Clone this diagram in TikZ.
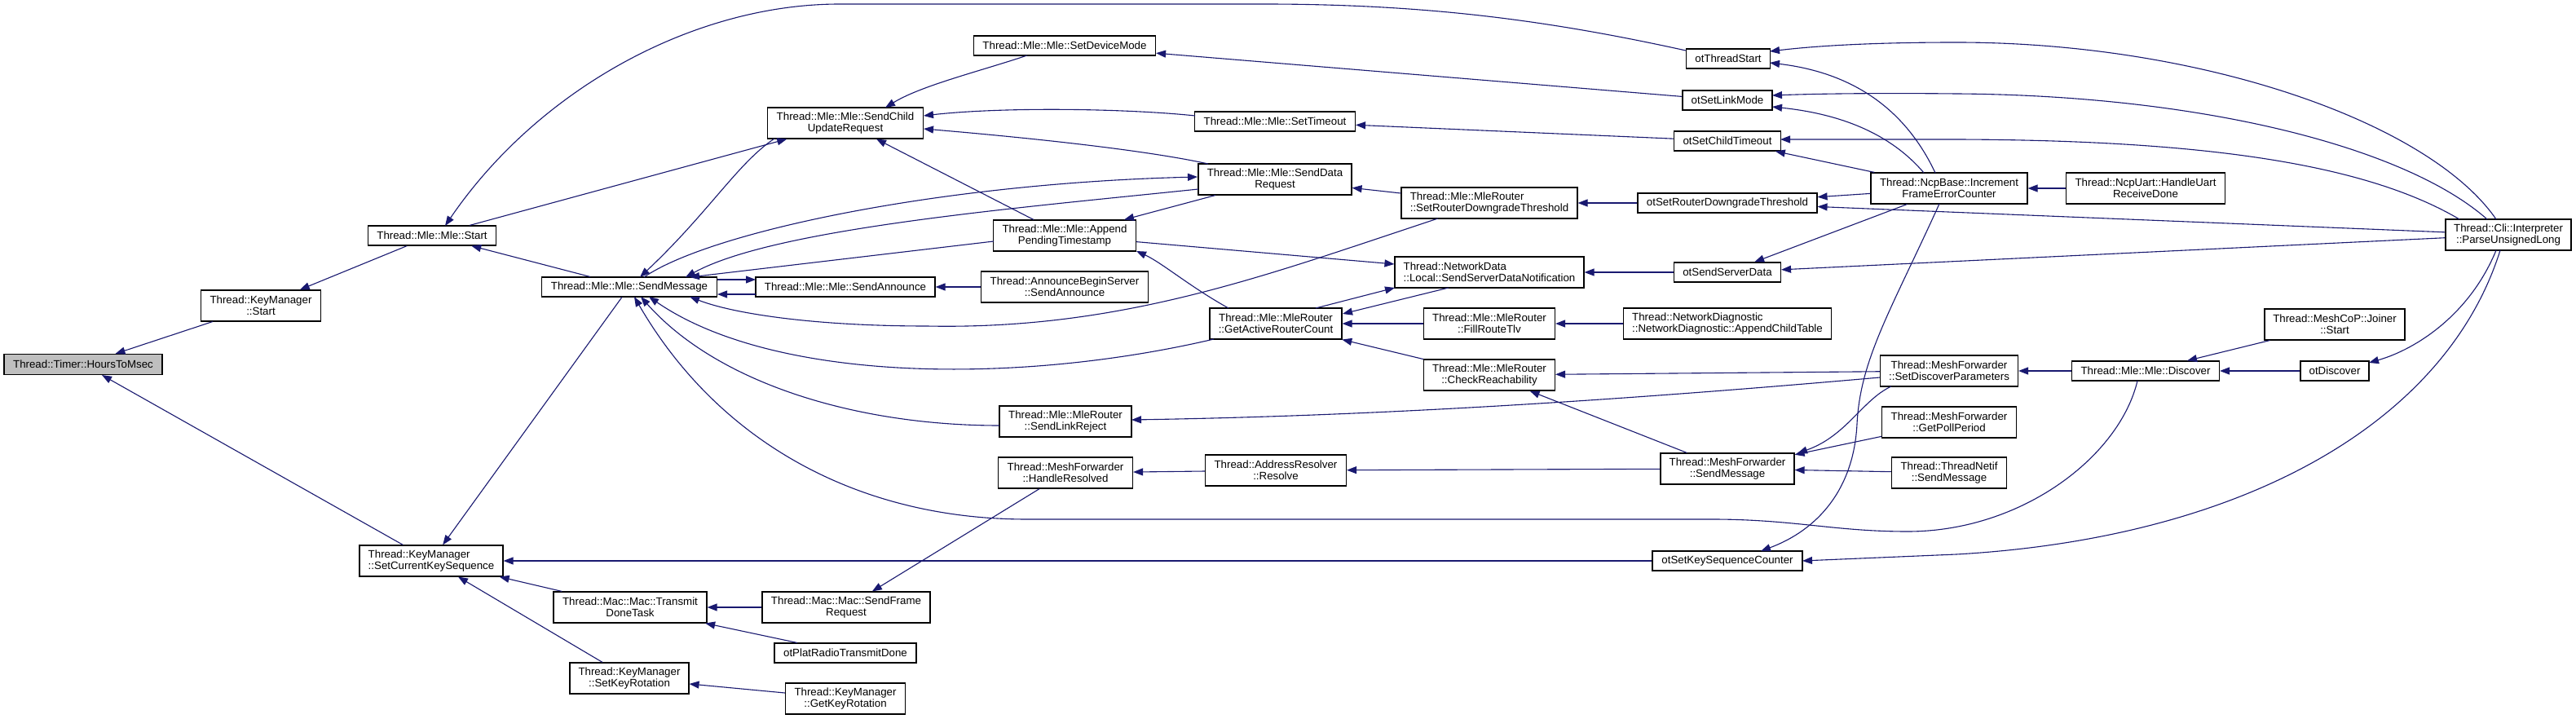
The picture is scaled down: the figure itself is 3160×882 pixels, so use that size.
\documentclass[tikz,border=0pt]{standalone}
\usepackage{fontspec}
\setmainfont{Liberation Sans}
\usetikzlibrary{arrows.meta}
\definecolor{edgecol}{RGB}{25,25,112}
\tikzset{
  box/.style={draw=black, line width=1.1pt, inner sep=0pt, fill=white,
    font=\fontsize{13.3}{14}\selectfont, align=center},
  hone/.style={minimum height=24pt},
  htwo/.style={minimum height=38pt},
  e/.style={draw=edgecol, line width=1.1pt, -{Triangle[length=12pt,width=9pt]}},
}
\begin{document}
\begin{tikzpicture}[x=1pt,y=-1pt]
\fill[white] (0,0) rectangle (3160,882);
\useasboundingbox (0,0) rectangle (3160,882);

% nodes
\node[box,fill=gray!50,minimum width=194pt,minimum height=25pt] (hours) at (102,447) {Thread::Timer::HoursToMsec};
\node[box,hone,minimum width=157pt] (mlestart) at (530,289) {Thread::Mle::Mle::Start};
\node[box,htwo,minimum width=147pt] (kmstart) at (320,375) {Thread::KeyManager\\::Start};
\node[box,hone,minimum width=215pt] (sendmsg) at (772,352) {Thread::Mle::Mle::SendMessage};
\node[box,htwo,minimum width=176pt,align=left] (sckseq) at (529,688) {Thread::KeyManager\\::SetCurrentKeySequence};
\node[box,htwo,minimum width=188pt] (tdt) at (773,745) {Thread::Mac::Mac::Transmit\\DoneTask};
\node[box,htwo,minimum width=146pt] (setkeyrot) at (772,832) {Thread::KeyManager\\::SetKeyRotation};
\node[box,hone,minimum width=223pt] (setdevmode) at (1306,56) {Thread::Mle::Mle::SetDeviceMode};
\node[box,htwo,minimum width=191pt] (scur) at (1037,151) {Thread::Mle::Mle::SendChild\\UpdateRequest};
\node[box,hone,minimum width=197pt] (settimeout) at (1564,149) {Thread::Mle::Mle::SetTimeout};
\node[box,htwo,minimum width=188pt] (sdr) at (1564,220) {Thread::Mle::Mle::SendData\\Request};
\node[box,htwo,minimum width=175pt] (apt) at (1306,289) {Thread::Mle::Mle::Append\\PendingTimestamp};
\node[box,hone,minimum width=220pt] (sendann) at (1037,352) {Thread::Mle::Mle::SendAnnounce};
\node[box,htwo,minimum width=205pt] (abs) at (1306,352) {Thread::AnnounceBeginServer\\::SendAnnounce};
\node[box,htwo,minimum width=162pt] (garc) at (1565,397) {Thread::Mle::MleRouter\\::GetActiveRouterCount};
\node[box,htwo,minimum width=162pt] (slr) at (1307,517) {Thread::Mle::MleRouter\\::SendLinkReject};
\node[box,htwo,minimum width=165pt] (hres) at (1307,580) {Thread::MeshForwarder\\::HandleResolved};
\node[box,htwo,minimum width=173pt] (arres) at (1565,577) {Thread::AddressResolver\\::Resolve};
\node[box,htwo,minimum width=206pt] (sfr) at (1038,745) {Thread::Mac::Mac::SendFrame\\Request};
\node[box,hone,minimum width=174pt] (optrd) at (1037,801) {otPlatRadioTransmitDone};
\node[box,htwo,minimum width=147pt] (gkr) at (1037,857) {Thread::KeyManager\\::GetKeyRotation};
\node[box,hone,minimum width=103pt] (otts) at (2120,72) {otThreadStart};
\node[box,hone,minimum width=110pt] (otslm) at (2119,123) {otSetLinkMode};
\node[box,hone,minimum width=131pt] (otsct) at (2119,173) {otSetChildTimeout};
\node[box,htwo,minimum width=216pt,align=left] (srdt) at (1827,249) {Thread::Mle::MleRouter\\::SetRouterDowngradeThreshold};
\node[box,hone,minimum width=220pt] (otsrdt) at (2119,249) {otSetRouterDowngradeThreshold};
\node[box,htwo,minimum width=192pt] (ifec) at (2391,231) {Thread::NcpBase::Increment\\FrameErrorCounter};
\node[box,htwo,minimum width=232pt,align=left] (ssdn) at (1827,334) {Thread::NetworkData\\::Local::SendServerDataNotification};
\node[box,hone,minimum width=131pt] (otssd) at (2119,334) {otSendServerData};
\node[box,htwo,minimum width=161pt] (frt) at (1827,397) {Thread::Mle::MleRouter\\::FillRouteTlv};
\node[box,htwo,minimum width=255pt,align=left] (act) at (2119,397) {Thread::NetworkDiagnostic\\::NetworkDiagnostic::AppendChildTable};
\node[box,htwo,minimum width=161pt] (cr) at (1827,460) {Thread::Mle::MleRouter\\::CheckReachability};
\node[box,htwo,minimum width=164pt] (mfsm) at (2119,575) {Thread::MeshForwarder\\::SendMessage};
\node[box,hone,minimum width=184pt] (otsksc) at (2119,688) {otSetKeySequenceCounter};
\node[box,htwo,minimum width=169pt] (sdp) at (2391,455) {Thread::MeshForwarder\\::SetDiscoverParameters};
\node[box,htwo,minimum width=165pt] (gpp) at (2391,518) {Thread::MeshForwarder\\::GetPollPeriod};
\node[box,htwo,minimum width=141pt] (tnsm) at (2391,580) {Thread::ThreadNetif\\::SendMessage};
\node[box,htwo,minimum width=195pt] (hurd) at (2632,231) {Thread::NcpUart::HandleUart\\ReceiveDone};
\node[box,htwo,minimum width=154pt] (pul) at (3077,288) {Thread::Cli::Interpreter\\::ParseUnsignedLong};
\node[box,htwo,minimum width=172pt] (joiner) at (2864,398) {Thread::MeshCoP::Joiner\\::Start};
\node[box,hone,minimum width=181pt] (discover) at (2632,455) {Thread::Mle::Mle::Discover};
\node[box,hone,minimum width=84pt] (otdisc) at (2864,455) {otDiscover};

% edges
\draw[e] (kmstart) -- (hours);
\draw[e] (sckseq) -- (hours);
\draw[e] (mlestart) -- (kmstart);
\draw[e] (sendmsg) -- (mlestart);
\draw[e] ([shift={(-52,-10)}]otts.center) .. controls (1900,25) and (1750,5) .. (1550,5) -- (1030,5) .. controls (850,5) and (660,110) .. ([shift={(16,-12)}]mlestart.center);
\draw[e] (mlestart) -- (scur);
\draw[e] (sendmsg) -- (sckseq);
\draw[e] (tdt) -- (sckseq);
\draw[e] (setkeyrot) -- (sckseq);
\draw[e] (otsksc) -- (sckseq);
\draw[e] ([shift={(-46,12)}]setdevmode.center) .. controls (1200,88) and (1130,105) .. ([shift={(49,-19)}]scur.center);
\draw[e] (otslm) -- (setdevmode);
\draw[e] ([shift={(-98,-7)}]settimeout.center) .. controls (1380,133) and (1230,131) .. ([shift={(96,-9)}]scur.center);
\draw[e] ([shift={(-82,-19)}]sdr.center) .. controls (1400,183) and (1250,168) .. ([shift={(96,7)}]scur.center);
\draw[e] (apt) -- (scur);
\draw[e] ([shift={(-87,19)}]scur.center) .. controls (905,200) and (870,260) .. ([shift={(13,-12)}]sendmsg.center);
\draw[e] ([shift={(18,-12)}]sendmsg.center) .. controls (870,285) and (1150,225) .. ([shift={(-95,-3)}]sdr.center);
\draw[e] ([shift={(-94,12)}]sdr.center) .. controls (1250,255) and (950,280) .. ([shift={(69,-12)}]sendmsg.center);
\draw[e] (sdr) -- (apt);
\draw[e] ([shift={(-87,7)}]apt.center) -- ([shift={(74,-12)}]sendmsg.center);
\draw[e] ([shift={(108,-9)}]sendmsg.center) -- ([shift={(-110,-9)}]sendann.center);
\draw[e] ([shift={(-110,9)}]sendann.center) -- ([shift={(108,9)}]sendmsg.center);
\draw[e] (abs) -- (sendann);
\draw[e] (apt) -- (ssdn);
\draw[e] ([shift={(-58,-19)}]garc.center) .. controls (1460,352) and (1425,322) .. ([shift={(88,19)}]apt.center);
\draw[e] ([shift={(-63,19)}]srdt.center) .. controls (1560,335) and (1380,405) .. (1137,400) .. controls (1000,400) and (900,385) .. ([shift={(74,12)}]sendmsg.center);
\draw[e] ([shift={(-76,19)}]garc.center) .. controls (1250,472) and (950,470) .. ([shift={(24,12)}]sendmsg.center);
\draw[e] ([shift={(-81,5)}]slr.center) .. controls (1050,522) and (880,470) .. ([shift={(14,12)}]sendmsg.center);
\draw[e] ([shift={(-10,12)}]discover.center) .. controls (2600,560) and (2480,652) .. (2340,652) .. controls (2250,652) and (2200,637) .. (2100,637) -- (1260,637) .. controls (1050,637) and (880,540) .. ([shift={(6,12)}]sendmsg.center);
\draw[e] (hres) -- (sfr);
\draw[e] (arres) -- (hres);
\draw[e] (sfr) -- (tdt);
\draw[e] (optrd) -- (tdt);
\draw[e] (gkr) -- (setkeyrot);
\draw[e] ([shift={(-85,8)}]sdp.center) .. controls (2000,490) and (1700,510) .. ([shift={(81,-2)}]slr.center);
\draw[e] (otsct) -- (settimeout);
\draw[e] (srdt) -- (sdr);
\draw[e] (otsrdt) -- (srdt);
\draw[e] ([shift={(49,-19)}]garc.center) -- ([shift={(-116,19)}]ssdn.center);
\draw[e] ([shift={(-50,19)}]ssdn.center) -- ([shift={(82,-12)}]garc.center);
\draw[e] (otssd) -- (ssdn);
\draw[e] (frt) -- (garc);
\draw[e] (act) -- (frt);
\draw[e] (cr) -- (garc);
\draw[e] ([shift={(-15,-19)}]pul.center) .. controls (2980,150) and (2700,52) .. (2400,52) .. controls (2300,52) and (2230,56) .. ([shift={(51,-9)}]otts.center);
\draw[e] ([shift={(-17,-19)}]ifec.center) .. controls (2340,140) and (2280,90) .. ([shift={(51,5)}]otts.center);
\draw[e] ([shift={(-26,-19)}]pul.center) .. controls (2950,180) and (2700,117) .. (2400,115) .. controls (2300,114) and (2230,115) .. ([shift={(55,-6)}]otslm.center);
\draw[e] ([shift={(-31,-19)}]ifec.center) .. controls (2320,165) and (2260,140) .. ([shift={(55,8)}]otslm.center);
\draw[e] ([shift={(-60,-19)}]pul.center) .. controls (2900,200) and (2700,172) .. (2400,171) -- ([shift={(65,-2)}]otsct.center);
\draw[e] (ifec) -- (otsct);
\draw[e] (ifec) -- (otsrdt);
\draw[e] (pul) -- (otsrdt);
\draw[e] (ifec) -- (otssd);
\draw[e] (pul) -- (otssd);
\draw[e] ([shift={(-12,19)}]ifec.center) .. controls (2320,380) and (2282,440) .. (2278,520) .. controls (2274,600) and (2230,650) .. ([shift={(41,-12)}]otsksc.center);
\draw[e] ([shift={(-71,19)}]sdp.center) .. controls (2285,490) and (2265,535) .. ([shift={(86,-19)}]mfsm.center);
\draw[e] (gpp) -- (mfsm);
\draw[e] (tnsm) -- (mfsm);
\draw[e] (mfsm) -- (cr);
\draw[e] (sdp) -- (cr);
\draw[e] (mfsm) -- (arres);
\draw[e] ([shift={(-10,19)}]pul.center) .. controls (3000,520) and (2750,660) .. (2400,680) -- ([shift={(92,0)}]otsksc.center);
\draw[e] ([shift={(-15,19)}]pul.center) .. controls (3030,385) and (2965,428) .. ([shift={(42,-10)}]otdisc.center);
\draw[e] (joiner) -- (discover);
\draw[e] (otdisc) -- (discover);
\draw[e] (discover) -- (sdp);
\draw[e] (hurd) -- (ifec);
\end{tikzpicture}
\end{document}
